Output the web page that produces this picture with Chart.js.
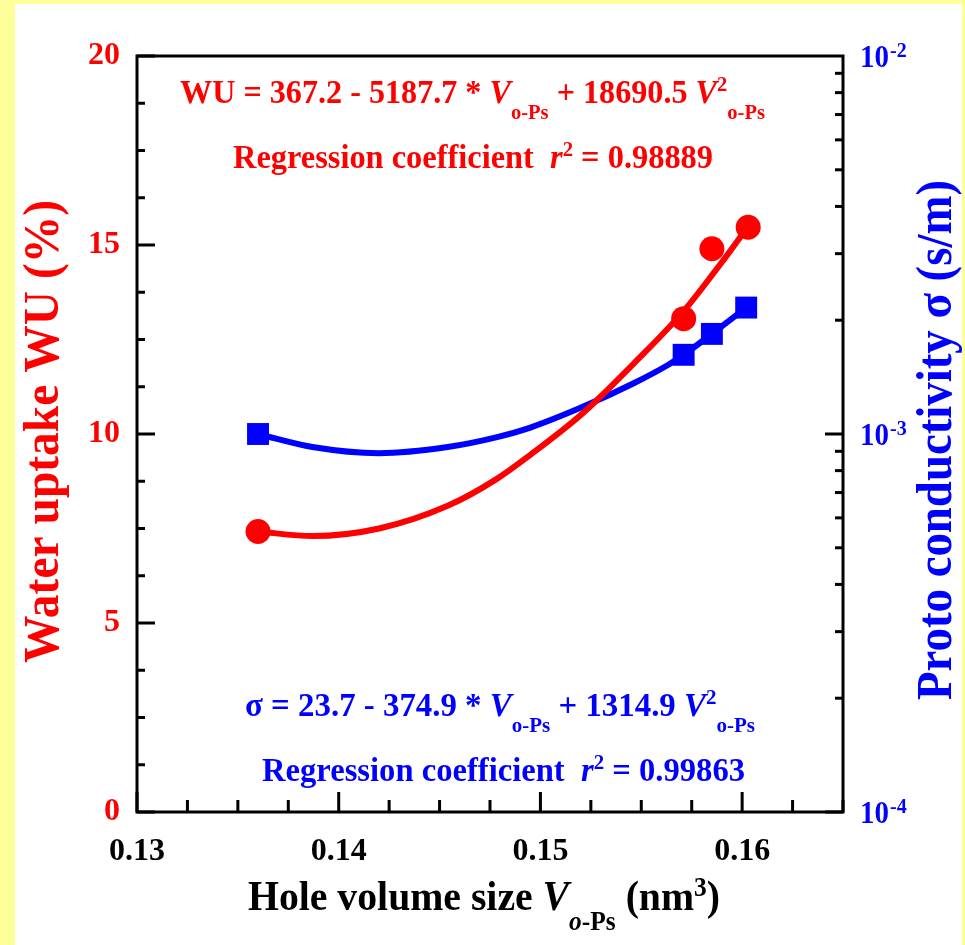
<!DOCTYPE html>
<html>
<head>
<meta charset="utf-8">
<title>Water uptake and proton conductivity vs hole volume</title>
<script src="https://cdn.jsdelivr.net/npm/chart.js@4.4.1/dist/chart.umd.min.js"></script>
<style>
  html, body { margin: 0; padding: 0; background: #ffff99; }
  canvas { display: block; }
</style>
</head>
<body>
<canvas id="wuChart" width="965" height="945"></canvas>
<script>
const SERIF = "'Liberation Serif', 'Times New Roman', serif";
const RED = '#ff0000';
const BLUE = '#0000ff';

// measured points
const wuVolume = [0.1360, 0.1571, 0.1585, 0.1603];
const wuValues = [7.42, 13.05, 14.9, 15.47];
const sigmaVolume = [0.1360, 0.1571, 0.1585, 0.1602];
const sigmaValues = [1.0e-3, 1.62e-3, 1.84e-3, 2.16e-3];

// regression curves
const wuFitVolume = [0.1360, 0.1387, 0.1420, 0.1454, 0.1478, 0.1495, 0.1521, 0.1546, 0.1571, 0.1590, 0.1603];
const wuFitValues = [7.42, 7.30, 7.50, 8.10, 8.80, 9.45, 10.55, 11.85, 13.25, 14.55, 15.5];
const sigmaFitVolume = [0.1360, 0.1387, 0.1420, 0.1454, 0.1478, 0.1495, 0.1521, 0.1546, 0.1563, 0.1571, 0.1585, 0.1602];
const sigmaFitValues = [1.0e-3, 9.24e-4, 8.9e-4, 9.24e-4, 9.8e-4, 1.04e-3, 1.18e-3, 1.36e-3, 1.52e-3, 1.62e-3, 1.84e-3, 2.16e-3];

// axes
const xTicks = [0.13, 0.14, 0.15, 0.16];
const wuTicks = [0, 5, 10, 15, 20];
const sigmaTicks = [1e-4, 1e-3, 1e-2];
const sigmaTickExp = ['-4', '-3', '-2'];

function pts(xs, ys) {
    return xs.map((x, i) => ({ x: x, y: ys[i] }));
}

// text made of runs: plain, italic, subscript, superscript
function runFont(r, size) {
    const s = (r.sub || r.sup) ? size * 0.64 : size;
    return (r.it ? 'italic ' : '') + 'bold ' + s + 'px ' + SERIF;
}

function drawRich(ctx, runs, x, y, size, color, fitWidth, angle) {
    ctx.save();
    let natural = 0;
    runs.forEach(r => {
        ctx.font = runFont(r, size);
        natural += ctx.measureText(r.t).width;
    });
    ctx.translate(x, y);
    if (angle) ctx.rotate(angle);
    if (fitWidth) ctx.scale(fitWidth / natural, 1);
    ctx.fillStyle = color;
    ctx.textBaseline = 'alphabetic';
    ctx.textAlign = 'left';
    let cx = 0;
    runs.forEach(r => {
        ctx.font = runFont(r, size);
        const dy = r.sub ? size * 0.48 : (r.sup ? -size * 0.34 : 0);
        ctx.fillText(r.t, cx, dy);
        cx += ctx.measureText(r.t).width;
    });
    ctx.restore();
}

const wuFormula = [
    { t: 'WU = 367.2 - 5187.7 * ' }, { t: 'V', it: 1 }, { t: 'o-Ps', sub: 1 },
    { t: ' + 18690.5 ' }, { t: 'V', it: 1 }, { t: '2', sup: 1 }, { t: 'o-Ps', sub: 1 }
];
const wuR2 = [{ t: 'Regression coefficient  ' }, { t: 'r', it: 1 }, { t: '2', sup: 1 }, { t: ' = 0.98889' }];
const sigmaFormula = [
    { t: 'σ = 23.7 - 374.9 * ' }, { t: 'V', it: 1 }, { t: 'o-Ps', sub: 1 },
    { t: ' + 1314.9 ' }, { t: 'V', it: 1 }, { t: '2', sup: 1 }, { t: 'o-Ps', sub: 1 }
];
const sigmaR2 = [{ t: 'Regression coefficient  ' }, { t: 'r', it: 1 }, { t: '2', sup: 1 }, { t: ' = 0.99863' }];
const xTitle = [
    { t: 'Hole volume size ' }, { t: 'V', it: 1 }, { t: 'o', it: 1, sub: 1 }, { t: '-Ps', sub: 1 },
    { t: ' (nm' }, { t: '3', sup: 1 }, { t: ')' }
];

function line(ctx, x1, y1, x2, y2) {
    ctx.beginPath();
    ctx.moveTo(x1, y1);
    ctx.lineTo(x2, y2);
    ctx.stroke();
}

const framePlugin = {
    id: 'frame',
    beforeDraw(chart) {
        const ctx = chart.ctx;
        ctx.save();
        ctx.fillStyle = '#ffff99';
        ctx.fillRect(0, 0, chart.width, chart.height);
        ctx.fillStyle = '#ffffff';
        ctx.fillRect(15, 4, 947, chart.height - 4);
        ctx.restore();
    },
    afterDraw(chart) {
        const ctx = chart.ctx;
        const a = chart.chartArea;
        const sx = chart.scales.x, sl = chart.scales.yWU, sr = chart.scales.ySigma;
        ctx.save();
        ctx.strokeStyle = '#000';
        ctx.lineWidth = 3;
        ctx.lineCap = 'square';
        ctx.strokeRect(a.left, a.top, a.right - a.left, a.bottom - a.top);
        ctx.lineCap = 'butt';

        // bottom ticks, inward
        for (let v = sx.min; v <= sx.max + 1e-9; v += 0.0025) {
            const px = sx.getPixelForValue(v);
            const major = xTicks.some(t => Math.abs(t - v) < 1e-6);
            line(ctx, px, a.bottom, px, a.bottom - (major ? 20 : 12));
        }
        // left ticks
        for (let v = sl.min; v <= sl.max + 1e-9; v += 1.25) {
            const py = sl.getPixelForValue(v);
            const major = wuTicks.includes(v);
            line(ctx, a.left, py, a.left + (major ? 18 : 8), py);
        }
        // right log ticks
        for (let e = -4; e < -2; e++) {
            for (let m = 1; m < 10; m++) {
                const py = sr.getPixelForValue(m * Math.pow(10, e));
                line(ctx, a.right, py, a.right - (m === 1 ? 18 : 8), py);
            }
        }

        // right tick labels 10^n
        sigmaTicks.forEach((v, i) => {
            const py = sr.getPixelForValue(v);
            drawRich(ctx, [{ t: '10' }], a.right + 17, py + 11, 31, BLUE, 29);
            ctx.font = 'bold 20px ' + SERIF;
            ctx.fillStyle = BLUE;
            ctx.fillText(sigmaTickExp[i], a.right + 17 + 30, py + 1);
        });

        // annotations
        drawRich(ctx, wuFormula, 180, 103, 34, RED, 585);
        drawRich(ctx, wuR2, 233, 168, 34, RED, 480);
        drawRich(ctx, sigmaFormula, 245, 716, 34, BLUE, 510);
        drawRich(ctx, sigmaR2, 262, 781, 34, BLUE, 483);

        // axis titles
        drawRich(ctx, xTitle, 248, 910, 42, '#000', 472);
        drawRich(ctx, [{ t: 'Water uptake WU (%)' }], 58, 663, 50, RED, 463, -Math.PI / 2);
        drawRich(ctx, [{ t: 'Proto conductivity σ (s/m)' }], 951, 700, 50, BLUE, 520, -Math.PI / 2);
        ctx.restore();
    }
};

const tickFont = { family: SERIF, size: 32, weight: 'bold' };

const chart = new Chart(document.getElementById('wuChart').getContext('2d'), {
    type: 'scatter',
    data: {
        datasets: [
            {
                data: pts(wuVolume, wuValues), yAxisID: 'yWU', order: 0,
                pointStyle: 'circle', pointRadius: 12.5, backgroundColor: RED, borderWidth: 0
            },
            {
                type: 'line', data: pts(wuFitVolume, wuFitValues), yAxisID: 'yWU', order: 1,
                borderColor: RED, borderWidth: 6, pointRadius: 0, cubicInterpolationMode: 'monotone', fill: false
            },
            {
                data: pts(sigmaVolume, sigmaValues), yAxisID: 'ySigma', order: 2,
                pointStyle: 'rect', pointRadius: 15.5, backgroundColor: BLUE, borderWidth: 0
            },
            {
                type: 'line', data: pts(sigmaFitVolume, sigmaFitValues), yAxisID: 'ySigma', order: 3,
                borderColor: BLUE, borderWidth: 6, pointRadius: 0, cubicInterpolationMode: 'monotone', fill: false
            }
        ]
    },
    options: {
        responsive: false,
        animation: false,
        events: [],
        layout: { padding: { top: 56, left: 0, right: 0, bottom: 0 } },
        plugins: { legend: { display: false }, tooltip: { enabled: false } },
        scales: {
            x: {
                type: 'linear', position: 'bottom', min: 0.13, max: 0.165,
                grid: { display: false, drawTicks: false }, border: { display: false },
                afterBuildTicks: s => { s.ticks = xTicks.map(v => ({ value: v })); },
                afterFit: s => { s.height = 133; },
                ticks: {
                    color: '#000', font: tickFont, padding: 21, maxRotation: 0, autoSkip: false,
                    callback: v => v.toFixed(2)
                }
            },
            yWU: {
                type: 'linear', position: 'left', min: 0, max: 20,
                grid: { display: false, drawTicks: false }, border: { display: false },
                afterBuildTicks: s => { s.ticks = wuTicks.map(v => ({ value: v })); },
                afterFit: s => { s.width = 137; },
                ticks: { color: RED, font: tickFont, padding: 17 }
            },
            ySigma: {
                type: 'logarithmic', position: 'right', min: 1e-4, max: 1e-2,
                grid: { display: false, drawTicks: false }, border: { display: false },
                afterFit: s => { s.width = 122; },
                ticks: { display: false }
            }
        }
    },
    plugins: [framePlugin]
});
</script>
</body>
</html>
